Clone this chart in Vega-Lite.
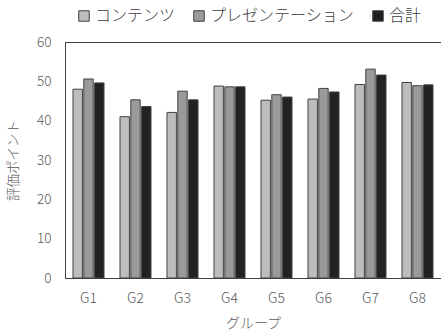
{
  "$schema": "https://vega.github.io/schema/vega-lite/v6.json",
  "width": 376,
  "height": 236,
  "autosize": {"type": "none"},
  "padding": {"left": 65, "top": 42, "right": 0, "bottom": 52},
  "background": "white",
  "view": {"stroke": "#404040", "strokeWidth": 1},
  "config": {
    "font": "Noto Sans CJK JP",
    "axis": {"labelColor": "#595959", "titleColor": "#595959", "labelFont": "Noto Sans CJK JP", "titleFont": "Noto Sans CJK JP", "titleFontWeight": 300, "labelFontWeight": 300},
    "legend": {"labelFont": "Noto Sans CJK JP", "labelColor": "#404040", "labelFontWeight": 300}
  },
  "data": {
    "values": [
      {"group": "G1", "series": "コンテンツ", "value": 48.0},
      {"group": "G1", "series": "プレゼンテーション", "value": 50.6},
      {"group": "G1", "series": "合計", "value": 49.6},
      {"group": "G2", "series": "コンテンツ", "value": 41.0},
      {"group": "G2", "series": "プレゼンテーション", "value": 45.3},
      {"group": "G2", "series": "合計", "value": 43.6},
      {"group": "G3", "series": "コンテンツ", "value": 42.1},
      {"group": "G3", "series": "プレゼンテーション", "value": 47.5},
      {"group": "G3", "series": "合計", "value": 45.3},
      {"group": "G4", "series": "コンテンツ", "value": 48.8},
      {"group": "G4", "series": "プレゼンテーション", "value": 48.6},
      {"group": "G4", "series": "合計", "value": 48.6},
      {"group": "G5", "series": "コンテンツ", "value": 45.2},
      {"group": "G5", "series": "プレゼンテーション", "value": 46.6},
      {"group": "G5", "series": "合計", "value": 46.0},
      {"group": "G6", "series": "コンテンツ", "value": 45.5},
      {"group": "G6", "series": "プレゼンテーション", "value": 48.2},
      {"group": "G6", "series": "合計", "value": 47.3},
      {"group": "G7", "series": "コンテンツ", "value": 49.2},
      {"group": "G7", "series": "プレゼンテーション", "value": 53.1},
      {"group": "G7", "series": "合計", "value": 51.6},
      {"group": "G8", "series": "コンテンツ", "value": 49.7},
      {"group": "G8", "series": "プレゼンテーション", "value": 48.9},
      {"group": "G8", "series": "合計", "value": 49.1}
    ]
  },
  "mark": {"type": "bar", "stroke": "#404040", "strokeWidth": 1},
  "encoding": {
    "x": {
      "field": "group", "type": "nominal",
      "scale": {"paddingInner": 0.34, "paddingOuter": 0.17},
      "axis": {"title": "グループ", "labelAngle": 0, "labelFontSize": 14, "titleFontSize": 14, "ticks": false, "labelPadding": 13, "titlePadding": 11, "domainColor": "#404040"}
    },
    "xOffset": {"field": "series", "type": "nominal", "sort": ["コンテンツ", "プレゼンテーション", "合計"], "scale": {"paddingInner": 0.13}},
    "y": {
      "field": "value", "type": "quantitative",
      "scale": {"domain": [0, 60]},
      "axis": {"title": "評価ポイント", "values": [0, 10, 20, 30, 40, 50, 60], "grid": false, "ticks": false, "labelFontSize": 13.5, "titleFontSize": 13.5, "labelPadding": 14, "titlePadding": 16, "domainColor": "#404040"}
    },
    "fill": {
      "field": "series", "type": "nominal",
      "sort": ["コンテンツ", "プレゼンテーション", "合計"],
      "scale": {"domain": ["コンテンツ", "プレゼンテーション", "合計"], "range": ["#bdbdbd", "#9a9a9a", "#222222"]},
      "legend": {"orient": "none", "legendX": 11, "legendY": -34, "direction": "horizontal", "title": null, "labelFontSize": 16, "symbolType": "square", "symbolSize": 110, "symbolStrokeColor": "#404040", "symbolStrokeWidth": 1, "columnPadding": 15, "labelOffset": 3}
    }
  }
}
